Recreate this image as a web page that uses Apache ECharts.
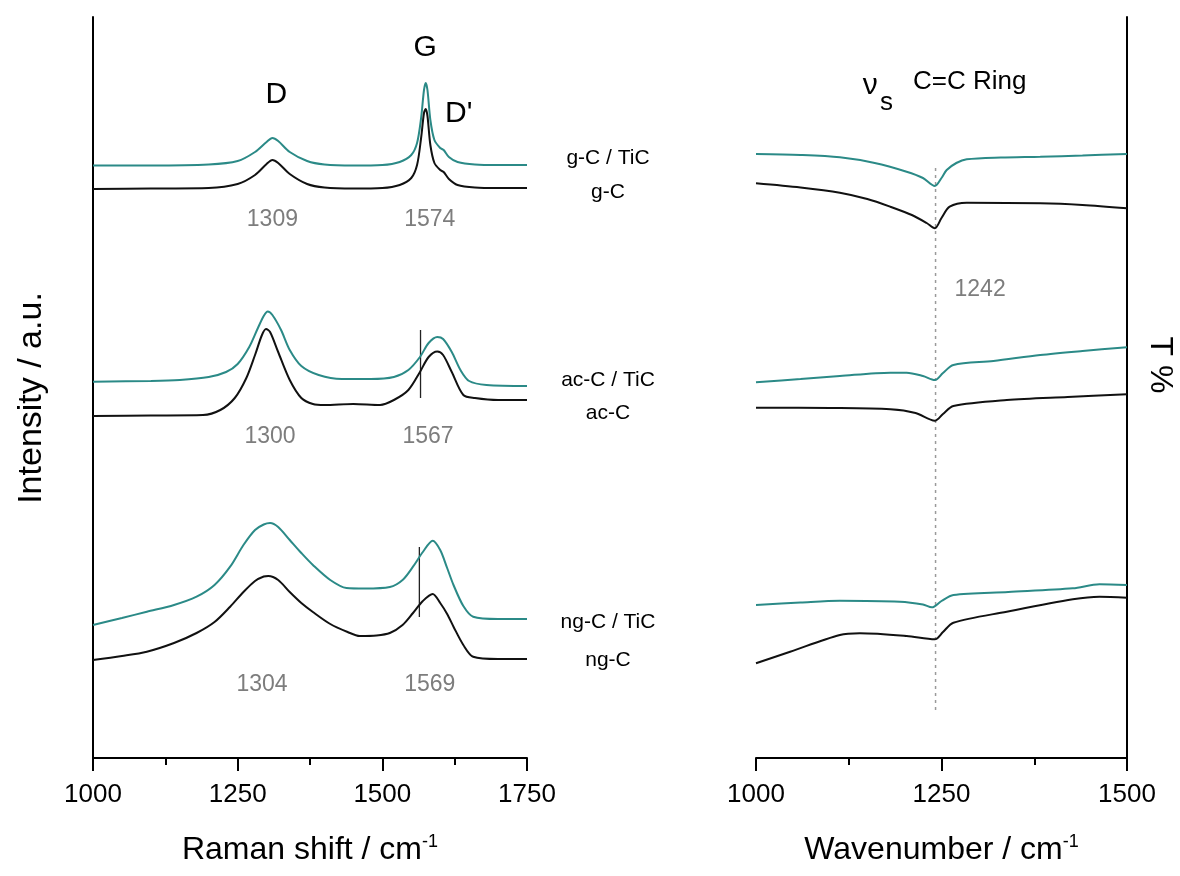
<!DOCTYPE html>
<html><head><meta charset="utf-8">
<script src="https://cdn.jsdelivr.net/npm/echarts@6.0.0/dist/echarts.min.js"></script>
<style>html,body{margin:0;padding:0;background:#fff}#c{width:1180px;height:876px}</style>
</head><body><div id="c"></div>
<script>
// ---------- Raman (left panel): wavenumbers and intensities (a.u., offset stacked) ----------
const ramanWn_gTiC = [1000,1100,1200,1250,1280,1300,1310,1320,1340,1370,1400,1450,1500,1530,1550,1560,1567,1572,1575,1578,1583,1590,1600,1606,1615,1630,1660,1700,1750];
const ramanI_gTiC  = [592.5,592.5,593.5,597,606,616,620,617,606,597,593.5,592.5,593,596,603,615,640,668,675,668,638,618,610,608,601,596,593.5,593,593];
const ramanWn_gC   = [1000,1100,1200,1250,1280,1300,1310,1320,1340,1370,1400,1450,1500,1530,1550,1560,1567,1572,1575,1578,1583,1590,1600,1606,1615,1630,1660,1700,1750];
const ramanI_gC    = [569,569.5,570,574,583,594,598,595,584,574,570.5,569.5,570,573,580,593,620,645,649,642,613,595,588,586,579,573,570.5,570,570];
const ramanWn_acTiC = [1000,1100,1150,1200,1230,1250,1270,1285,1295,1302,1310,1325,1340,1360,1390,1430,1480,1520,1545,1565,1580,1595,1605,1620,1635,1650,1680,1750];
const ramanI_acTiC  = [376.3,377,378,381,386,394,411,430,442,446.5,443,428,408,392,383,379,379,381,388,401,415,421,419,406,388,377,373,372];
const ramanWn_acC   = [1000,1100,1190,1220,1245,1265,1280,1292,1299,1306,1320,1340,1360,1380,1400,1450,1496,1520,1545,1565,1580,1595,1605,1620,1640,1660,1700,1750];
const ramanI_acC    = [342,342.5,343,348,360,380,403,423,429,426,406,378,360,354,353,354,353,358,368,386,401,406.5,403,386,363,360,358,358];
const ramanWn_ngTiC = [1000,1050,1093,1140,1179,1210,1237,1260,1280,1295,1306,1320,1340,1360,1380,1410,1438,1470,1513,1535,1553,1570,1587,1600,1612,1623,1640,1657,1700,1750];
const ramanI_ngTiC  = [133,140,146.3,153,161.3,173,191.3,213,228,233.5,235,231,218,205,193,178,170,169.5,171,178,191.3,206,217.3,208,190,173,152,141.3,139,139];
const ramanWn_ngC   = [1000,1050,1093,1140,1179,1210,1237,1260,1280,1295,1303,1320,1340,1360,1380,1410,1440,1461,1490,1513,1535,1553,1570,1587,1600,1612,1623,1640,1657,1700,1750];
const ramanI_ngC    = [98,102,106.3,115,125,136,151.3,166,177,181.5,182,178,166,155,146,134,126,122,122.5,125,133,145,157,164,155,144,131.3,113,101.3,99,99];

// peak marker lines (Raman)
const markerAc = {wn:1566, from:360, to:428};
const markerNg = {wn:1564, from:141, to:211};

// ---------- IR (right panel): wavenumbers and transmittance (offset stacked) ----------
const irWn_gTiC = [1000,1060,1113,1160,1203,1225,1241,1250,1257,1270,1284,1330,1383,1440,1500];
const irT_gTiC  = [604,603,600.7,595,586.3,580,572,580,588,595,598.7,600.5,601.3,602.5,604];
const irWn_gC   = [1000,1060,1113,1150,1181,1210,1230,1241,1250,1261,1284,1383,1440,1500];
const irT_gC    = [574.7,570.5,565.3,559,551.3,543,535,529.7,540,551.3,555.3,554.7,553,549.7];
const irWn_acTiC = [1000,1060,1113,1181,1203,1225,1241,1252,1266,1320,1383,1440,1500];
const irT_acTiC  = [375.7,379,382,385.3,385.3,382,378,385,393,397,403,407,410.7];
const irWn_acC   = [1000,1100,1181,1215,1241,1252,1266,1338,1420,1500];
const irT_acC    = [350.3,350,348.7,345,337.3,344,352,358,361,363.7];
const irWn_ngTiC = [1000,1060,1113,1194,1225,1237,1250,1266,1340,1427,1463,1500];
const irT_ngTiC  = [153,155.5,157.3,156.3,153.5,150.7,157,163,166,169.7,173.7,173];
const irWn_ngC   = [1000,1046,1113,1140,1203,1241,1252,1266,1338,1427,1463,1500];
const irT_ngC    = [94.7,106.3,123,124.7,122,118.7,126,135.3,146.3,158.7,161.3,160.3];
const irRefLine = {wn:1242, from:48, to:593};

// ---------- text ----------
const ramanPeakText = ['1309','1574','1300','1567','1304','1569'];
const ramanPeakWn   = [1310,1582,1306,1579,1292,1582];
const ramanPeakI    = [538,538,321,321,73,73];
const bandText = ['D','G',"D'"];
const bandWn   = [1317,1574,1632];
const bandI    = [663,710,644];
const sampleText = ['g-C / TiC','g-C','ac-C / TiC','ac-C','ng-C / TiC','ng-C'];

const TEAL = '#2b8a87', BLACK = '#111111', GRAY = '#7d7d7d';
const FONT = '"Liberation Sans", Arial, sans-serif';
const YMAX = 741;

const pair = (xs, ys) => xs.map((x, i) => [x, ys[i]]);
function line(xs, ys, color, g, z) {
  return {type:'line', xAxisIndex:g, yAxisIndex:g, data:pair(xs, ys), showSymbol:false, symbol:'none',
    smooth:0.3, lineStyle:{color:color, width:2}, z:z||2, silent:true};
}
function vline(m, g, style) {
  return {type:'line', xAxisIndex:g, yAxisIndex:g, data:[[m.wn, m.from],[m.wn, m.to]], showSymbol:false,
    symbol:'none', lineStyle:style, z:1, silent:true};
}
function labels(g, items) {
  return {type:'scatter', xAxisIndex:g, yAxisIndex:g, symbolSize:1, itemStyle:{color:'rgba(0,0,0,0)'},
    silent:true, z:5,
    data: items.map(it => ({value:[it.x, it.y], name:it.t,
      label:{show:true, position:'inside', formatter:'{b}', color:it.c, fontSize:it.fs, fontFamily:FONT,
        textBorderWidth:0, opacity:1}}))};
}

const chart = echarts.init(document.getElementById('c'), null, {renderer:'canvas'});

const xAxisCommon = (min, max, name) => ({
  type:'value', min:min, max:max, interval:250,
  axisLine:{show:true, onZero:false, lineStyle:{color:'#000', width:2}},
  axisTick:{show:true, length:13, lineStyle:{color:'#000', width:2}},
  minorTick:{show:true, splitNumber:2, length:7, lineStyle:{color:'#000', width:2}},
  splitLine:{show:false},
  axisLabel:{show:true, color:'#000', fontSize:26, fontFamily:FONT, margin:24, formatter:v => String(v)},
  name:name, nameLocation:'middle', nameGap:75,
  nameTextStyle:{color:'#000', fontSize:32, fontFamily:FONT,
    rich:{sup:{fontSize:18, fontFamily:FONT, color:'#000', verticalAlign:'top', padding:[0,0,16,0]}}}
});

const peakItems = ramanPeakText.map((t,i)=>({t:t, x:ramanPeakWn[i], y:ramanPeakI[i], c:GRAY, fs:23}))
  .concat(bandText.map((t,i)=>({t:t, x:bandWn[i], y:bandI[i], c:'#000', fs:30})));
const irItems = [
  {t:'ν', x:1154, y:672, c:'#000', fs:30},
  {t:'s', x:1176, y:655, c:'#000', fs:26},
  {t:'C=C Ring', x:1288, y:676, c:'#000', fs:26},
  {t:String(irRefLine.wn), x:1302, y:468, c:GRAY, fs:23}
];

const sampleY = [158,192,380,413,622,660];

chart.setOption({
  animation:false,
  backgroundColor:'#fff',
  grid:[
    {left:93, right:653, top:17, bottom:118},
    {left:756, right:53, top:17, bottom:118}
  ],
  xAxis:[
    Object.assign(xAxisCommon(1000,1750,'Raman shift / cm{sup|-1}'), {gridIndex:0}),
    Object.assign(xAxisCommon(1000,1500,'Wavenumber / cm{sup|-1}'), {gridIndex:1})
  ],
  yAxis:[
    {type:'value', gridIndex:0, min:0, max:YMAX, position:'left',
     axisLine:{show:true, lineStyle:{color:'#000', width:2}}, axisTick:{show:false}, axisLabel:{show:false}, splitLine:{show:false}},
    {type:'value', gridIndex:1, min:0, max:YMAX, position:'right',
     axisLine:{show:true, lineStyle:{color:'#000', width:2}}, axisTick:{show:false}, axisLabel:{show:false}, splitLine:{show:false}}
  ],
  graphic:[
    {type:'text', x:32, y:398, rotation:Math.PI/2, style:{text:'Intensity / a.u.', fill:'#000', font:'34px '+FONT, textAlign:'center', textVerticalAlign:'middle'}},
    {type:'text', x:1160, y:365, rotation:-Math.PI/2, style:{text:'T %', fill:'#000', font:'32px '+FONT, textAlign:'center', textVerticalAlign:'middle'}}
  ].concat(sampleText.map((t,i)=>({type:'text', x:608, y:sampleY[i],
     style:{text:t, fill:'#000', font:'21px '+FONT, textAlign:'center', textVerticalAlign:'middle'}}))),
  series:[
    line(ramanWn_gTiC, ramanI_gTiC, TEAL, 0),
    line(ramanWn_gC, ramanI_gC, BLACK, 0, 3),
    line(ramanWn_acTiC, ramanI_acTiC, TEAL, 0),
    line(ramanWn_acC, ramanI_acC, BLACK, 0, 3),
    line(ramanWn_ngTiC, ramanI_ngTiC, TEAL, 0),
    line(ramanWn_ngC, ramanI_ngC, BLACK, 0, 3),
    vline(markerAc, 0, {color:'#222', width:1.3}),
    vline(markerNg, 0, {color:'#222', width:1.3}),
    labels(0, peakItems),
    vline(irRefLine, 1, {color:'#9a9a9a', width:1.5, type:[3,4]}),
    line(irWn_gTiC, irT_gTiC, TEAL, 1),
    line(irWn_gC, irT_gC, BLACK, 1, 3),
    line(irWn_acTiC, irT_acTiC, TEAL, 1),
    line(irWn_acC, irT_acC, BLACK, 1, 3),
    line(irWn_ngTiC, irT_ngTiC, TEAL, 1),
    line(irWn_ngC, irT_ngC, BLACK, 1, 3),
    labels(1, irItems)
  ]
});
</script></body></html>
